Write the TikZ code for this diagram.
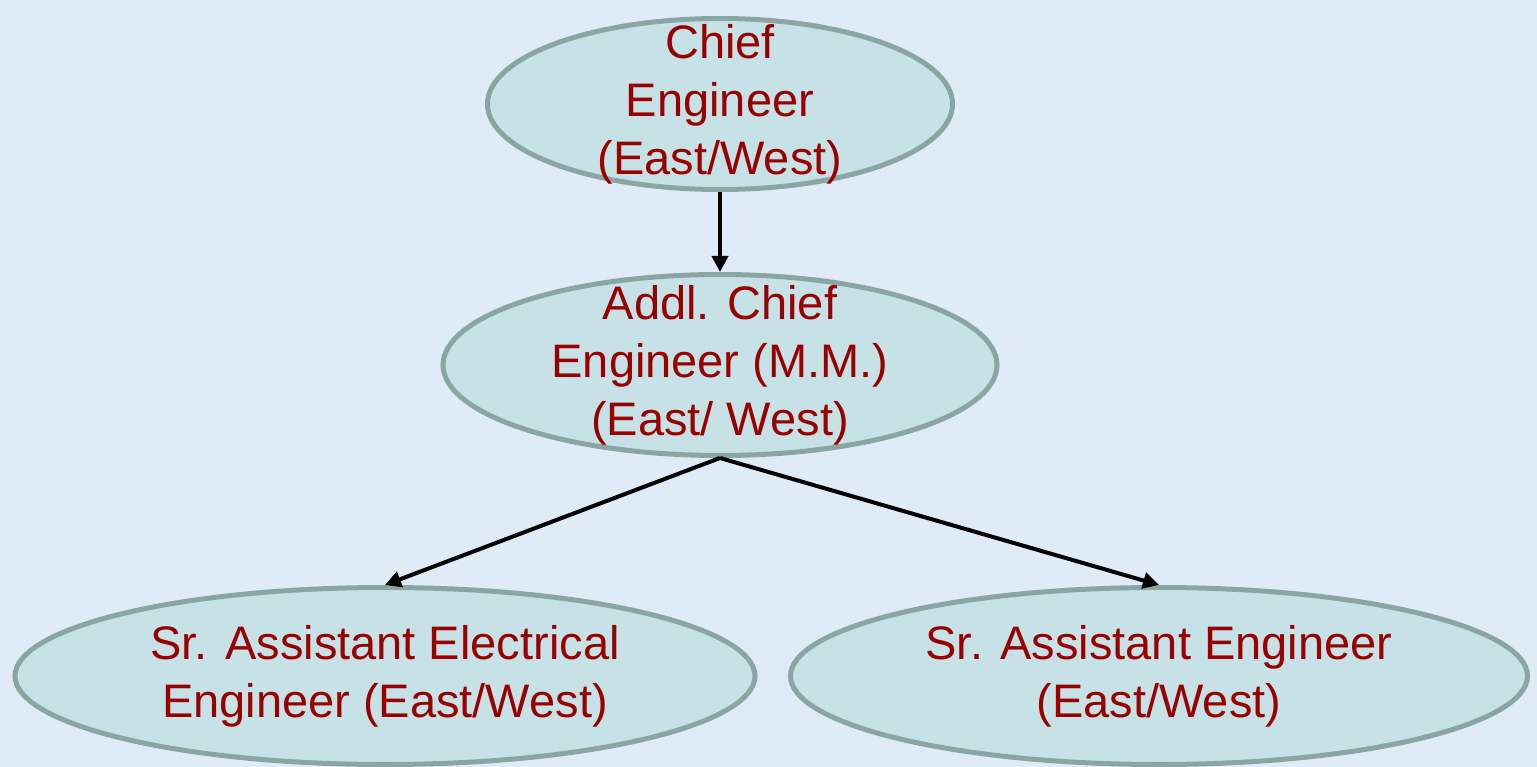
\documentclass[tikz,border=0pt]{standalone}
\usepackage{fontspec}
\setmainfont{Liberation Sans}
\usepackage{xcolor}
\usetikzlibrary{arrows.meta,shapes.geometric}
\definecolor{bgblue}{HTML}{DFEBF7}
\definecolor{ovalfill}{HTML}{C6E2E6}
\definecolor{ovalline}{HTML}{8AA6A4}
\definecolor{textred}{HTML}{990000}

\begin{document}
\begin{tikzpicture}[
    x=1pt,
    y=-1pt,
    ellipse_style/.style={
        ellipse,
        draw=ovalline,
        fill=ovalfill,
        line width=5pt,
        inner sep=-80pt,
        text=textred,
        align=center,
        font=\fontsize{47}{58}\selectfont
        },
    edge_style/.style={
        draw=black,
        line width=4pt,
        -{Triangle[length=16pt,width=16pt]}
        }]

    \fill[bgblue] (0,0) rectangle (1537,767);
    \useasboundingbox (0,0) rectangle (1537,767);

    \node[ellipse_style, minimum width=465pt, minimum height=171pt] (chief) at (720,104) {Chief\\Engineer\\(East/West)};
    \node[ellipse_style, minimum width=554pt, minimum height=181pt] (addl) at (720,365) {Addl. Chief\\Engineer (M.M.)\\(East/ West)};
    \node[ellipse_style, minimum width=740pt, minimum height=177pt] (sraee) at (385,676) {Sr. Assistant Electrical\\Engineer (East/West)};
    \node[ellipse_style, minimum width=737pt, minimum height=177pt] (srae) at (1159,676) {Sr. Assistant Engineer\\(East/West)};

    \draw[edge_style] (chief) -- (addl);
    \draw[edge_style] (addl.south) -- (sraee.north);
    \draw[edge_style] (addl.south) -- (srae.north);
\end{tikzpicture}
\end{document}
